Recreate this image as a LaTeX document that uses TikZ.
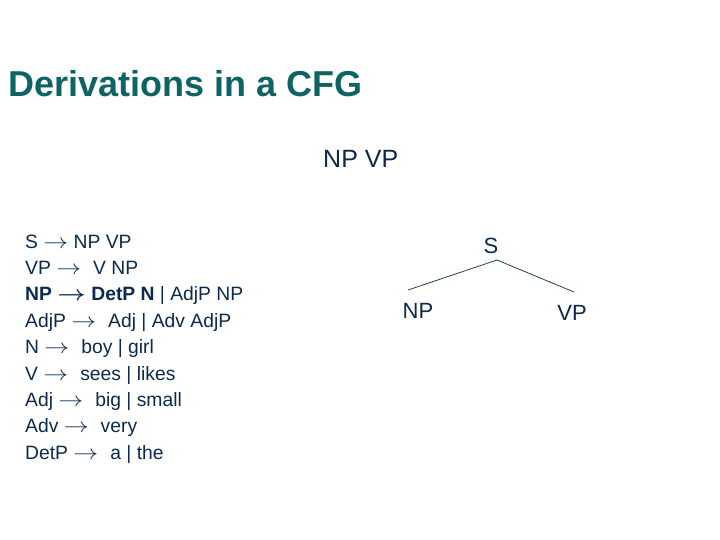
\documentclass[tikz,border=0pt]{standalone}
\usepackage{fontspec}
\setmainfont{Liberation Sans}
\definecolor{titlecol}{HTML}{0E6363}
\definecolor{txtcol}{HTML}{0B2A4E}
\newcommand{\arr}{\scalebox{1.2}[1]{$\rightarrow$}}
\newcommand{\barr}{\scalebox{1.2}[1]{\boldmath$\rightarrow$}}
\newcommand{\gap}{\hspace{12pt}}
\begin{document}
\begin{tikzpicture}[x=1pt,y=-1pt,
  rule/.style={anchor=base west,inner sep=0pt,text=txtcol,font=\fontsize{19.3}{22}\selectfont},
  treelbl/.style={inner sep=0pt,text=txtcol,font=\fontsize{22}{26}\selectfont},
  branch/.style={draw=txtcol,line width=0.7pt}]
\useasboundingbox[fill=white] (0,0) rectangle (720,540);
\node[anchor=base west,inner sep=0pt,text=titlecol,font=\fontsize{36}{40}\selectfont\bfseries] (title) at (8,97) {Derivations in a CFG};
\node[anchor=base west,inner sep=0pt,text=txtcol,font=\fontsize{25}{30}\selectfont] (deriv) at (323,168) {NP VP};
\node[rule] (r1) at (25,248) {S \arr{} NP VP};
\node[rule] (r2) at (25,274.4) {VP \arr\gap V NP};
\node[rule] (r3) at (25,300.8) {\textbf{NP \barr{} DetP N} | AdjP NP};
\node[rule] (r4) at (25,327.2) {AdjP \arr\gap Adj | Adv AdjP};
\node[rule] (r5) at (25,353.6) {N \arr\gap boy | girl};
\node[rule] (r6) at (25,380) {V \arr\gap sees | likes};
\node[rule] (r7) at (25,406.4) {Adj \arr\gap big | small};
\node[rule] (r8) at (25,432.8) {Adv \arr\gap very};
\node[rule] (r9) at (25,459.2) {DetP \arr\gap a | the};
\node[treelbl,anchor=base] (S) at (491,253) {S};
\node[treelbl,anchor=base] (NP) at (418,318) {NP};
\node[treelbl,anchor=base] (VP) at (572,320) {VP};
\coordinate (apex) at (497,260);
\coordinate (npend) at (408,290);
\coordinate (vpend) at (574,292);
\draw[branch] (apex) -- (npend);
\draw[branch] (apex) -- (vpend);
\end{tikzpicture}
\end{document}
